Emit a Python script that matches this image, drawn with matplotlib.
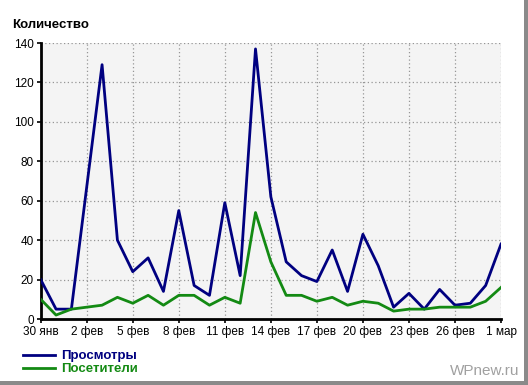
import matplotlib
matplotlib.use('Agg')
import matplotlib.pyplot as plt
import numpy as np

plt.rcParams['font.family'] = ['Liberation Sans', 'DejaVu Sans']

# дни: 30 янв .. 1 мар
days = ['30 янв', '31 янв'] + ['%d фев' % d for d in range(1, 29)] + ['1 мар']
views = [20, 5, 5, 67, 129, 40, 24, 31, 14, 55, 17, 12, 59, 22, 137, 62,
         29, 22, 19, 35, 14, 43, 27, 6, 13, 5, 15, 7, 8, 17, 38]
visitors = [10, 2, 5, 6, 7, 11, 8, 12, 7, 12, 12, 7, 11, 8, 54, 29,
            12, 12, 9, 11, 7, 9, 8, 4, 5, 5, 6, 6, 6, 9, 16]
yticks = [0, 20, 40, 60, 80, 100, 120, 140]

W, H = 528, 385
fig = plt.figure(figsize=(W / 100, H / 100), dpi=100)
fig.patch.set_facecolor('white')

ax = fig.add_axes([40.7 / W, (H - 319) / H, 460.3 / W, 276 / H])
ax.set_facecolor('#f4f4f4')

x = np.arange(len(days))
ax.plot(x, views, color='#000080', lw=2, label='Просмотры', zorder=3)
ax.plot(x, visitors, color='#138a13', lw=2, label='Посетители', zorder=3)

ax.set_xlim(0, len(days) - 1)
ax.set_ylim(0, 140)
ax.set_xticks(x[::3])
ax.set_xticklabels(days[::3])
ax.set_yticks(yticks)
ax.grid(True, color='#969696', linestyle=(0, (1, 2)), linewidth=0.9)
ax.set_axisbelow(True)

for s in ['top', 'right']:
    ax.spines[s].set_visible(False)
for s in ['left', 'bottom']:
    ax.spines[s].set_linewidth(2)
    ax.spines[s].set_color('black')
ax.tick_params(axis='both', labelsize=8.5, length=3, width=1.2, color='black', pad=2)

fig.text(12 / W, 1 - 28 / H, 'Количество', fontsize=9.5, fontweight='bold')

leg = fig.legend(loc='upper left', bbox_to_anchor=(14 / W, 1 - 341 / H),
                 frameon=False, prop={'weight': 'bold', 'size': 9.5},
                 labelcolor='linecolor', handlelength=2.4, handletextpad=0.5,
                 labelspacing=0.05, borderpad=0.2)

fig.text(519 / W, 1 - 371 / H, 'WPnew.ru', fontsize=11, color='#a0a0a0',
         ha='right', va='center')

# тень рамки
fig.patches.append(plt.Rectangle((524 / W, 0), 4 / W, 1, transform=fig.transFigure,
                                 facecolor='#8a8a8a', edgecolor='none'))
fig.patches.append(plt.Rectangle((0, 0), 1, 4 / H, transform=fig.transFigure,
                                 facecolor='#8a8a8a', edgecolor='none'))

fig.savefig('out.png', dpi=100)
